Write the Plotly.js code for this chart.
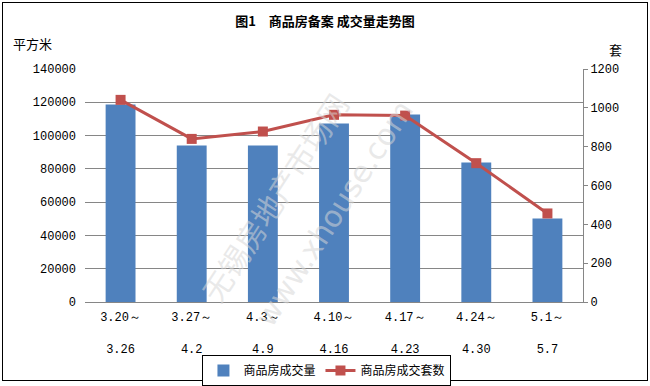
<!DOCTYPE html>
<html>
<head>
<meta charset="utf-8">
<script src="https://cdn.plot.ly/plotly-3.0.1.min.js"></script>
<style>
html,body{margin:0;padding:0;background:#fff;}
#frame{position:absolute;left:2px;top:2px;width:644px;height:377px;border:1px solid #000;}
#chart{position:absolute;left:0;top:0;width:650px;height:386px;}
</style>
</head>
<body>
<div id="frame"></div>
<div id="chart"></div>
<script>
const categories = ["3.20～<br> <br>3.26","3.27～<br> <br>4.2","4.3～<br> <br>4.9","4.10～<br> <br>4.16","4.17～<br> <br>4.23","4.24～<br> <br>4.30","5.1～<br> <br>5.7"];
const areaValues = [118700, 94000, 94000, 107200, 112600, 83800, 50200];
const unitValues = [1041, 840, 878, 964, 960, 715, 456];
const leftTicks = [0, 20000, 40000, 60000, 80000, 100000, 120000, 140000];
const rightTicks = [0, 200, 400, 600, 800, 1000, 1200];

const cjk = 'SimSun, "Noto Sans CJK SC", sans-serif';
const numFont = '"Liberation Mono", "DejaVu Sans Mono", monospace';

const traces = [
  {type:'bar', name:'商品房成交量', x:categories, y:areaValues,
   marker:{color:'#4f81bd'}, width:0.42},
  {type:'scatter', mode:'lines+markers', name:'商品房成交套数', x:categories, y:unitValues, yaxis:'y2',
   line:{color:'#c0504d', width:3}, marker:{symbol:'square', size:10, color:'#c0504d'}}
];

const layout = {
  width:650, height:386,
  paper_bgcolor:'rgba(0,0,0,0)', plot_bgcolor:'rgba(0,0,0,0)',
  margin:{l:85, r:67, t:69, b:84, autoexpand:false},
  title:{text:'<b>图1　商品房备案 成交量走势图</b>', x:0.5, xanchor:'center', y:0.945, yanchor:'middle',
         font:{family:cjk, size:13, color:'#000'}},
  showlegend:true,
  legend:{orientation:'h', x:0.503, xanchor:'center', xref:'container', y:0.04, yanchor:'middle', yref:'container',
          bordercolor:'#000', borderwidth:1, bgcolor:'#fff',
          font:{family:cjk, size:12, color:'#000'}, traceorder:'normal', tracegroupgap:0},
  xaxis:{type:'category', showgrid:false, showline:true, linecolor:'#868686', linewidth:1, automargin:false,
         ticks:'', tickfont:{family:numFont, size:12, color:'#000'}, fixedrange:true, ticklabelstandoff:4},
  yaxis:{range:[0,140000], tickvals:leftTicks, ticktext:leftTicks.map(String), automargin:false,
         showgrid:true, gridcolor:'#868686', gridwidth:1, showline:false, zeroline:false,
         ticks:'', tickfont:{family:numFont, size:12, color:'#000'}, ticklabelstandoff:8},
  yaxis2:{range:[0,1200], tickvals:rightTicks, ticktext:rightTicks.map(String), overlaying:'y', side:'right', automargin:false,
          showgrid:false, zeroline:false, showline:true, linecolor:'#868686', linewidth:1,
          ticks:'outside', ticklen:4, tickcolor:'#868686',
          tickfont:{family:numFont, size:12, color:'#000'}},
  bargap:0.58,
  annotations:[
    {text:'平方米', xref:'paper', yref:'paper', x:-0.148, y:1.11, xanchor:'left', yanchor:'middle', showarrow:false,
     font:{family:cjk, size:13, color:'#000'}},
    {text:'套', xref:'paper', yref:'paper', x:1.065, y:1.085, xanchor:'center', yanchor:'middle', showarrow:false,
     font:{family:cjk, size:13, color:'#000'}},
    {text:'无锡房地产市场网', xref:'paper', yref:'paper', x:0.38, y:0.45, showarrow:false, textangle:-57,
     font:{family:cjk, size:30, color:'rgba(215,215,215,0.55)'}},
    {text:'www.xhouse.com', xref:'paper', yref:'paper', x:0.5, y:0.38, showarrow:false, textangle:-57,
     font:{family:'"DejaVu Sans", sans-serif', size:30, color:'rgba(215,215,215,0.55)'}}
  ]
};

Plotly.newPlot('chart', traces, layout, {displayModeBar:false, staticPlot:true});
</script>
</body>
</html>
